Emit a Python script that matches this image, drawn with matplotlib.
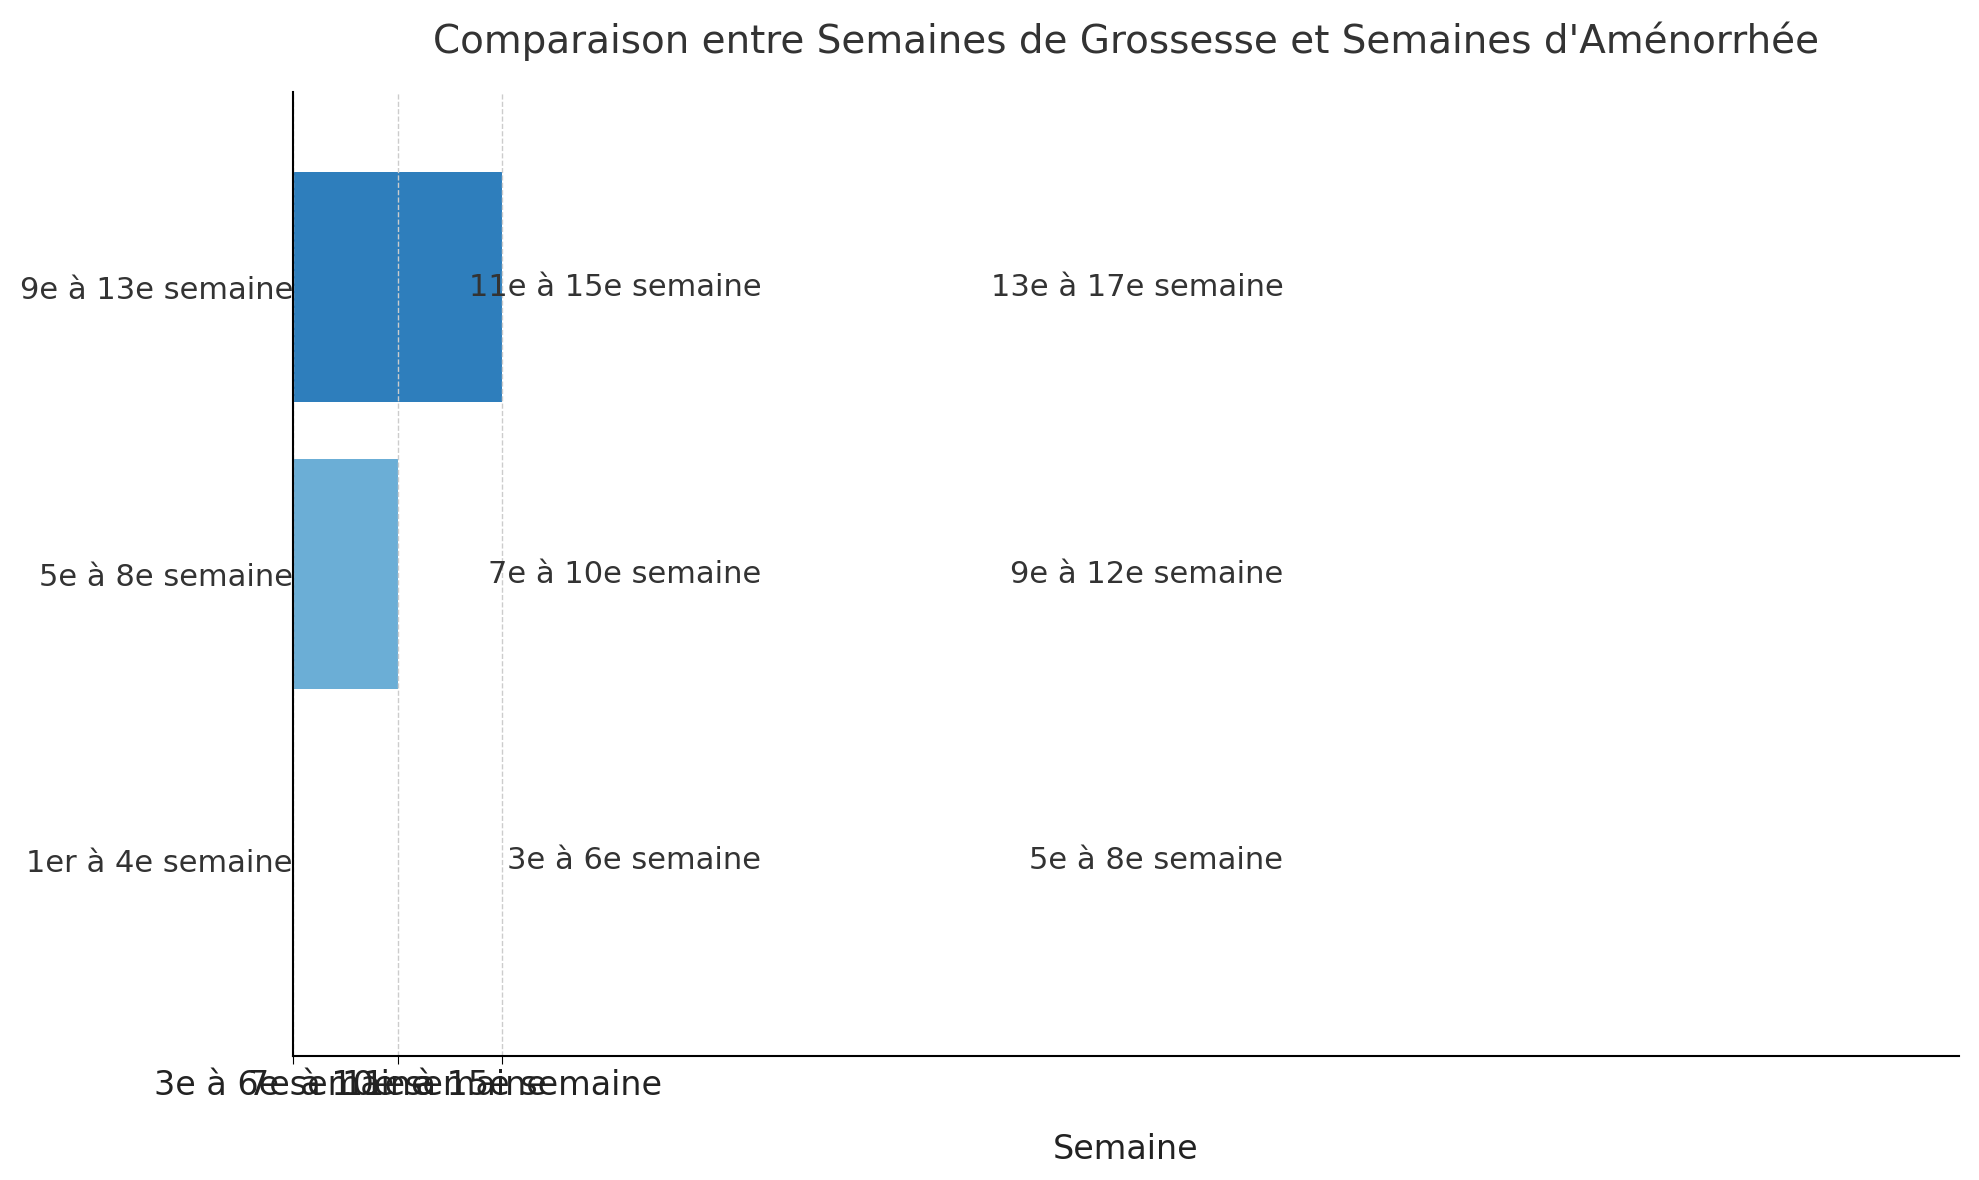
import matplotlib
matplotlib.use("Agg")
import matplotlib.pyplot as plt

gross = ["1er à 4e semaine", "5e à 8e semaine", "9e à 13e semaine"]
widths = [0, 1, 2]
sa_col1 = ["3e à 6e semaine", "7e à 10e semaine", "11e à 15e semaine"]
sa_col2 = ["5e à 8e semaine", "9e à 12e semaine", "13e à 17e semaine"]
xtick_labels = ["3e à 6e semaine", "7e à 10e semaine", "11e à 15e semaine"]
colors = ["#c6dbef", "#6baed6", "#2e7ebc"]

fig = plt.figure(figsize=(19.79, 11.8), dpi=100)
ax = fig.add_axes([0.148, 0.105, 0.842, 0.817])
y = list(range(len(gross)))
ax.barh(y, widths, height=0.8, color=colors)
ax.set_yticks(y)
ax.set_yticklabels(gross, fontsize=22, color="#333333")
ax.tick_params(axis="y", length=0, pad=0)
ax.set_xticks([0, 1, 2])
ax.set_xticklabels(xtick_labels, fontsize=24, color="#222222")
ax.tick_params(axis="x", length=6)
for i in y:
    ax.text(4.47, i, sa_col1[i], ha="right", va="center", fontsize=22, color="#333333")
    ax.text(9.45, i, sa_col2[i], ha="right", va="center", fontsize=22, color="#333333")
ax.set_xlim(0, 15.9)
ax.set_ylim(-0.68, 2.68)
ax.grid(axis="x", linestyle="--", color="#cccccc", linewidth=1)
ax.set_axisbelow(False)
for s in ["top", "right"]:
    ax.spines[s].set_visible(False)
for s in ["left", "bottom"]:
    ax.spines[s].set_linewidth(1.5)
    ax.spines[s].set_zorder(5)
ax.set_xlabel("Semaine", fontsize=24, color="#222222", labelpad=22)
ax.set_title("Comparaison entre Semaines de Grossesse et Semaines d'Aménorrhée",
             fontsize=28, color="#333333", pad=28)
fig.savefig("out.png", dpi=100)
